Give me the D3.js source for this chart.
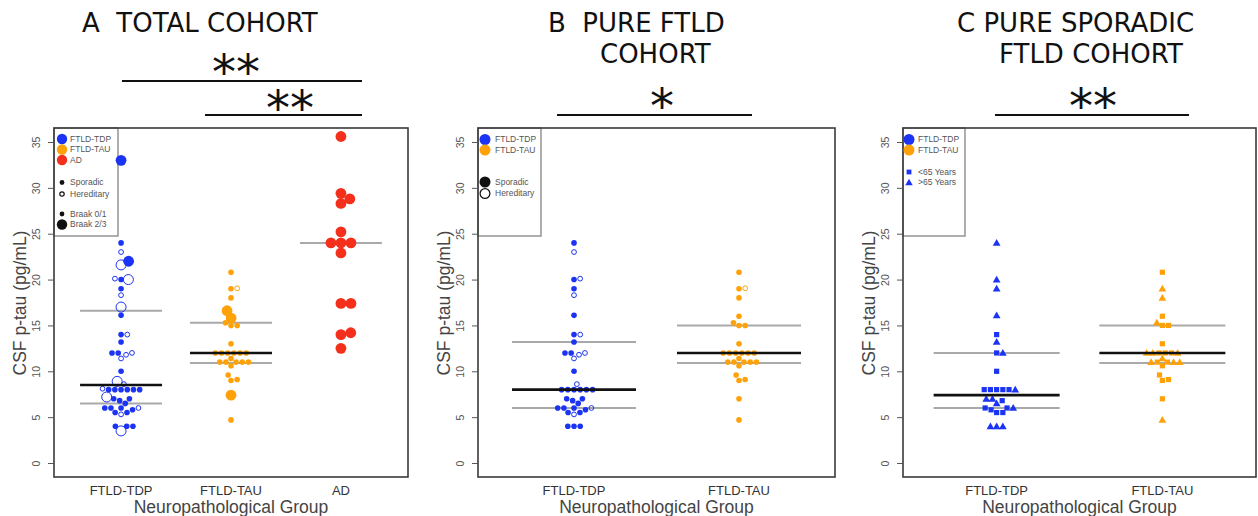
<!DOCTYPE html>
<html><head><meta charset="utf-8">
<script src="https://cdn.jsdelivr.net/npm/d3@7"></script>
<style>body{margin:0;background:#fff} svg{display:block} .pre{white-space:pre}</style>
</head><body>
<script>
// ---------------- DATA ----------------
const groupsA = ["FTLD-TDP", "FTLD-TAU", "AD"];
const groupsBC = ["FTLD-TDP", "FTLD-TAU"];
const yTicks = [0, 5, 10, 15, 20, 25, 30, 35];

// Panel A (total cohort)
const aTdpSporadicSmall = [24, 20, 19, 16.1, 14, 13.2, 12, 12, 10, 8, 8, 8, 8, 8, 8, 7, 7, 6.8, 6.5, 6, 6, 6, 5.8, 5.5, 5.5, 4, 4, 4];
const aTdpSporadicBig = [33, 22];
const aTdpHereditarySmall = [23, 20.1, 18.3, 14, 12, 11.8, 11.4, 8.6, 8.1, 6, 5.3];
const aTdpHereditaryBig = [21.6, 20, 17, 8.9, 7.2, 3.5];
const aTauSporadicSmall = [20.8, 19, 18, 15.3, 15, 15, 13, 12, 12, 12, 12, 12, 12, 11.4, 11, 11, 11, 11, 11, 10.6, 9.6, 9.1, 9, 4.7];
const aTauSporadicBig = [16.6, 15.8, 7.4];
const aTauHereditarySmall = [19.05];
const aAdSporadicBig = [35.6, 29.4, 28.8, 28.3, 25.2, 24, 24, 24, 22.9, 17.4, 17.4, 14.2, 14, 12.5];
const aMedians = [8.5, 12, null];
const aQuartiles = [[6.5, 16.6], [10.9, 15.3], [24]];

// Panel B (pure FTLD cohort)
const bTdpSporadic = [24, 20, 19, 16.1, 14, 13.2, 12, 12, 10, 8, 8, 8, 8, 8, 8, 7, 7, 6.8, 6.5, 6, 6, 6, 5.8, 5.5, 5.5, 4, 4, 4];
const bTdpHereditary = [23, 20.1, 18.3, 14, 12, 11.8, 11.4, 8.6, 6, 5.3];
const bTauSporadic = [20.8, 19, 18, 16, 15.3, 15, 15, 13, 12, 12, 12, 12, 12, 12, 11.4, 11, 11, 11, 11, 11, 10.6, 9.6, 9.1, 9, 7, 4.7];
const bTauHereditary = [19.05];
const bMedians = [8, 12];
const bQuartiles = [[6, 13.2], [10.9, 15]];

// Panel C (pure sporadic FTLD cohort)
const cTdpUnder65 = [14, 12, 10, 8, 8, 8, 8, 8, 6.8, 6, 6, 5.8, 5.5, 5.5];
const cTdpOver65 = [24, 20, 19, 16.1, 13.2, 12, 8, 7, 7, 6.5, 6, 4, 4, 4];
const cTauUnder65 = [20.8, 16, 15, 15, 13, 12, 12, 12, 11, 11, 10.6, 9.6, 9.1, 9, 7];
const cTauOver65 = [19, 18, 15.3, 12, 12, 12, 11.4, 11, 11, 11, 4.7];
const cMedians = [7.4, 12];
const cQuartiles = [[6, 12], [10.9, 15]];

// ---------------- STYLE ----------------
const COL = {"FTLD-TDP": "#1b33f2", "FTLD-TAU": "#ffa20a", "AD": "#f4301c"};
const TITLE_FONT = "'DejaVu Sans', Verdana, sans-serif";
const AX_FONT = "'Liberation Sans', Arial, sans-serif";
const W = 1258, H = 516;
const PLOT_TOP = 128, PLOT_BOTTOM = 477;

const svg = d3.select("body").append("svg").attr("width", W).attr("height", H);

function pts(group, values, opts) {
  return values.map(v => Object.assign({group, value: v, shape: "circle", filled: true, big: false}, opts));
}

function swarm(points, y) {
  const sorted = points.slice().sort((a, b) => a.value - b.value);
  const placed = [];
  sorted.forEach(p => {
    p.py = y(p.value);
    const cands = [0];
    placed.forEach(q => {
      const d = (p.s + q.s) / 2, dy = p.py - q.py;
      if (Math.abs(dy) < d) {
        const dx = Math.sqrt(d * d - dy * dy);
        cands.push(q.dx + dx, q.dx - dx);
      }
    });
    cands.sort((a, b) => Math.abs(a) - Math.abs(b) || b - a);
    for (const c of cands) {
      const ok = placed.every(q => {
        const d = (p.s + q.s) / 2;
        return (c - q.dx) ** 2 + (p.py - q.py) ** 2 >= d * d - 1e-6;
      });
      if (ok) { p.dx = c; break; }
    }
    placed.push(p);
  });
}

function drawPanel(cfg) {
  const g = svg.append("g");
  const x = d3.scalePoint().domain(cfg.groups).range([cfg.left, cfg.right]).padding(cfg.pad);
  const y = d3.scaleLinear().domain([0, 35]).range([463, 142]);

  // legend box (under plot border)
  g.append("rect").attr("x", cfg.left).attr("y", PLOT_TOP)
    .attr("width", cfg.legendW).attr("height", 108)
    .attr("fill", "#fff").attr("stroke", "#8c8c8c").attr("stroke-width", 1.4);

  // summary lines
  const hw = cfg.halfWidth;
  cfg.groups.forEach((grp, i) => {
    (cfg.quartiles[i] || []).forEach(v => {
      g.append("line").attr("x1", x(grp) - hw).attr("x2", x(grp) + hw)
        .attr("y1", y(v)).attr("y2", y(v)).attr("stroke", "#a9a9a9").attr("stroke-width", 2);
    });
  });

  // points
  cfg.groups.forEach(grp => {
    const gp = cfg.points.filter(p => p.group === grp);
    gp.forEach(p => { p.s = p.big ? (grp === "AD" ? 10 : 8.4) : 6.2; });
    swarm(gp, y);
    gp.forEach(p => {
      const cx = x(grp) + p.dx, cy = p.py, c = COL[grp];
      if (p.shape === "circle") {
        const r = p.big ? 5.4 : 2.8;
        g.append("circle").attr("cx", cx).attr("cy", cy).attr("r", p.filled ? r : r - 0.4)
          .attr("fill", p.filled ? c : "none").attr("stroke", c)
          .attr("stroke-width", p.filled ? 0 : 1);
      } else if (p.shape === "square") {
        g.append("rect").attr("x", cx - 2.6).attr("y", cy - 2.6).attr("width", 5.2).attr("height", 5.2).attr("fill", c);
      } else {
        g.append("path").attr("d", d3.symbol(d3.symbolTriangle, 26)()).attr("transform", `translate(${cx},${cy + 0.6})`).attr("fill", c);
      }
    });
  });

  // medians (black) on top
  cfg.groups.forEach((grp, i) => {
    const m = cfg.medians[i];
    if (m != null) {
      g.append("line").attr("x1", x(grp) - hw).attr("x2", x(grp) + hw)
        .attr("y1", y(m)).attr("y2", y(m)).attr("stroke", "#111").attr("stroke-width", 2.6);
    }
  });

  // plot border
  g.append("rect").attr("x", cfg.left).attr("y", PLOT_TOP)
    .attr("width", cfg.right - cfg.left).attr("height", PLOT_BOTTOM - PLOT_TOP)
    .attr("fill", "none").attr("stroke", "#3a3a3a").attr("stroke-width", 1.6);

  // y axis
  const ax = g.append("g").attr("transform", `translate(${cfg.left},0)`)
    .call(d3.axisLeft(y).tickValues(yTicks).tickSize(6).tickSizeOuter(0).tickFormat(d3.format("d")));
  ax.select(".domain").remove();
  ax.selectAll(".tick line").attr("stroke", "#555").attr("stroke-width", 1);
  ax.selectAll(".tick text").attr("transform", "rotate(-90)").attr("x", 0).attr("y", -14).attr("dy", 0)
    .attr("text-anchor", "middle").attr("font-family", AX_FONT).attr("font-size", 10.5).attr("fill", "#555");

  g.append("text").attr("transform", `translate(${cfg.left - 28},${303}) rotate(-90)`)
    .attr("text-anchor", "middle").attr("font-family", AX_FONT).attr("font-size", 17.5).attr("fill", "#444")
    .text("CSF p-tau (pg/mL)");

  // x labels
  cfg.groups.forEach(grp => {
    g.append("text").attr("x", x(grp)).attr("y", 495).attr("text-anchor", "middle")
      .attr("font-family", AX_FONT).attr("font-size", 13).attr("fill", "#333").text(grp);
  });
  g.append("text").attr("x", (cfg.left + cfg.right) / 2).attr("y", 513).attr("text-anchor", "middle")
    .attr("font-family", AX_FONT).attr("font-size", 17.5).attr("fill", "#444").text("Neuropathological Group");

  // legend entries
  cfg.legend.forEach(e => {
    const lx = cfg.left + cfg.legendSymX, ly = e.y;
    if (e.shape === "circle") {
      g.append("circle").attr("cx", lx).attr("cy", ly).attr("r", e.filled ? e.r : e.r - 0.6)
        .attr("fill", e.filled ? e.color : "#fff").attr("stroke", e.color).attr("stroke-width", e.filled ? 0 : 1.2);
    } else if (e.shape === "square") {
      g.append("rect").attr("x", lx - 2.4).attr("y", ly - 2.4).attr("width", 4.8).attr("height", 4.8).attr("fill", e.color);
    } else {
      g.append("path").attr("d", d3.symbol(d3.symbolTriangle, 24)()).attr("transform", `translate(${lx},${ly + 0.5})`).attr("fill", e.color);
    }
    g.append("text").attr("x", cfg.left + cfg.legendTextX).attr("y", ly).attr("dy", "0.35em")
      .attr("font-family", AX_FONT).attr("font-size", 8.5).attr("fill", "#555").text(e.label);
  });

  // titles
  cfg.title.forEach(t => {
    g.append("text").attr("class", "pre").attr("x", t.x).attr("y", t.y).attr("font-family", TITLE_FONT)
      .attr("font-size", 26).attr("fill", "#111").text(t.text);
  });

  // significance bars
  cfg.sig.forEach(s => {
    g.append("line").attr("x1", s.x1).attr("x2", s.x2).attr("y1", s.y).attr("y2", s.y)
      .attr("stroke", "#111").attr("stroke-width", 2);
    g.append("text").attr("x", s.tx).attr("y", s.ty).attr("text-anchor", "middle")
      .attr("font-family", TITLE_FONT).attr("font-size", 48).attr("fill", "#111").text(s.text);
  });
}

// ---------- build panels ----------
const pointsA = [].concat(
  pts("FTLD-TDP", aTdpSporadicSmall, {}),
  pts("FTLD-TDP", aTdpSporadicBig, {big: true}),
  pts("FTLD-TDP", aTdpHereditarySmall, {filled: false}),
  pts("FTLD-TDP", aTdpHereditaryBig, {filled: false, big: true}),
  pts("FTLD-TAU", aTauSporadicSmall, {}),
  pts("FTLD-TAU", aTauSporadicBig, {big: true}),
  pts("FTLD-TAU", aTauHereditarySmall, {filled: false}),
  pts("AD", aAdSporadicBig, {big: true})
);
const pointsB = [].concat(
  pts("FTLD-TDP", bTdpSporadic, {}),
  pts("FTLD-TDP", bTdpHereditary, {filled: false}),
  pts("FTLD-TAU", bTauSporadic, {}),
  pts("FTLD-TAU", bTauHereditary, {filled: false})
);
const pointsC = [].concat(
  pts("FTLD-TDP", cTdpUnder65, {shape: "square"}),
  pts("FTLD-TDP", cTdpOver65, {shape: "triangle"}),
  pts("FTLD-TAU", cTauUnder65, {shape: "square"}),
  pts("FTLD-TAU", cTauOver65, {shape: "triangle"})
);

drawPanel({
  groups: groupsA, left: 54, right: 408, pad: 0.61, halfWidth: 41,
  points: pointsA, medians: aMedians, quartiles: aQuartiles,
  legendW: 64, legendSymX: 8, legendTextX: 16,
  legend: [
    {shape: "circle", filled: true, r: 5.2, color: COL["FTLD-TDP"], y: 139, label: "FTLD-TDP"},
    {shape: "circle", filled: true, r: 5.2, color: COL["FTLD-TAU"], y: 149.5, label: "FTLD-TAU"},
    {shape: "circle", filled: true, r: 5.2, color: COL["AD"], y: 160, label: "AD"},
    {shape: "circle", filled: true, r: 2.4, color: "#111", y: 182.5, label: "Sporadic"},
    {shape: "circle", filled: false, r: 2.8, color: "#111", y: 194, label: "Hereditary"},
    {shape: "circle", filled: true, r: 2.4, color: "#111", y: 214, label: "Braak 0/1"},
    {shape: "circle", filled: true, r: 5.2, color: "#111", y: 224.5, label: "Braak 2/3"}
  ],
  title: [{x: 82, y: 32, text: "A  TOTAL COHORT"}],
  sig: [
    {x1: 122, x2: 362, y: 81, tx: 236, ty: 89, text: "**"},
    {x1: 205, x2: 362, y: 115, tx: 290, ty: 125, text: "**"}
  ]
});

drawPanel({
  groups: groupsBC, left: 478, right: 835, pad: 0.582, halfWidth: 62,
  points: pointsB, medians: bMedians, quartiles: bQuartiles,
  legendW: 63, legendSymX: 7, legendTextX: 17,
  legend: [
    {shape: "circle", filled: true, r: 5.5, color: COL["FTLD-TDP"], y: 139.5, label: "FTLD-TDP"},
    {shape: "circle", filled: true, r: 5.5, color: COL["FTLD-TAU"], y: 150, label: "FTLD-TAU"},
    {shape: "circle", filled: true, r: 5.5, color: "#111", y: 182, label: "Sporadic"},
    {shape: "circle", filled: false, r: 5.5, color: "#111", y: 193.5, label: "Hereditary"}
  ],
  title: [{x: 548, y: 32, text: "B  PURE FTLD"}, {x: 600, y: 63, text: "COHORT"}],
  sig: [{x1: 557, x2: 752, y: 115, tx: 662, ty: 123, text: "*"}]
});

drawPanel({
  groups: groupsBC, left: 903, right: 1256, pad: 0.565, halfWidth: 63,
  points: pointsC, medians: cMedians, quartiles: cQuartiles,
  legendW: 62, legendSymX: 6, legendTextX: 15,
  legend: [
    {shape: "circle", filled: true, r: 5.5, color: COL["FTLD-TDP"], y: 139.5, label: "FTLD-TDP"},
    {shape: "circle", filled: true, r: 5.5, color: COL["FTLD-TAU"], y: 150, label: "FTLD-TAU"},
    {shape: "square", color: COL["FTLD-TDP"], y: 172, label: "<65 Years"},
    {shape: "triangle", color: COL["FTLD-TDP"], y: 182.5, label: ">65 Years"}
  ],
  title: [{x: 957, y: 32, text: "C PURE SPORADIC"}, {x: 999, y: 63, text: "FTLD COHORT"}],
  sig: [{x1: 995, x2: 1189, y: 115, tx: 1093, ty: 123, text: "**"}]
});
</script>
</body></html>
